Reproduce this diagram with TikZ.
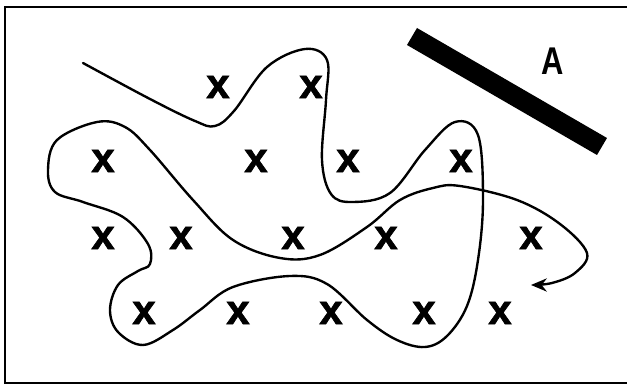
\documentclass[tikz,border=0pt]{standalone}
\usepackage{fontspec}
\setmainfont{Liberation Sans}
\newfontfamily\tagfont[FakeStretch=0.8]{Liberation Sans Bold}
\newfontfamily\crossfont[FakeBold=1.6]{Liberation Sans Bold}
\usetikzlibrary{arrows.meta}
\begin{document}
\begin{tikzpicture}[x=0.02cm,y=-0.02cm,
		spot/.style={inner sep=0pt,font=\crossfont\fontsize{24}{24}\selectfont},
		route/.style={line width=1.35pt,line cap=round}]
			\useasboundingbox (0,0) rectangle (627,385);
			\draw[line width=1.2pt] (627,7) -- (5,7) -- (5,383) -- (627,383);

			% wall and its label
			\fill (407,45) -- (417,28) -- (607,138) -- (597,155) -- cycle;
			\node (lab) at (553,61) [font=\tagfont\fontsize{22}{22}\selectfont] {A};

			% crosses, row by row
			\node (r1a) at (218,87) [spot] {x};
			\node (r1b) at (311,87) [spot] {x};
			\node (r2a) at (103,161) [spot] {x};
			\node (r2b) at (256,161) [spot] {x};
			\node (r2c) at (348,161) [spot] {x};
			\node (r2d) at (461,161) [spot] {x};
			\node (r3a) at (103,238) [spot] {x};
			\node (r3b) at (181,238) [spot] {x};
			\node (r3c) at (293,238) [spot] {x};
			\node (r3d) at (386,238) [spot] {x};
			\node (r3e) at (531,238) [spot] {x};
			\node (r4a) at (144,313) [spot] {x};
			\node (r4b) at (238,313) [spot] {x};
			\node (r4c) at (331,313) [spot] {x};
			\node (r4d) at (424,313) [spot] {x};
			\node (r4e) at (500,313) [spot] {x};

			% the wandering path
			\coordinate (start) at (83,63);
			\coordinate (stop) at (531,285);
			\draw[route,-{Stealth[length=9pt,width=7.5pt]}] plot[smooth,tension=0.6] coordinates {
				(start) (150,99) (195,121) (215,126) (234,111) (267,67) (305,49) (327,60)
				(326,100) (322,160) (331,194) (352,202) (390,193) (425,150)
				(455,122) (478,135) (483,200) (478,260) (467,306) (447,336)
				(425,347) (397,340) (367,320) (327,284) (290,276) (233,287)
				(200,310) (173,330) (143,345) (118,332) (110,310) (118,285)
				(138,271) (150,264) (148,244) (123,217) (83,202) (55,192)
				(48,170) (57,140) (97,122) (125,127) (150,150) (193,200)
				(233,240) (280,258) (320,255) (367,227) (400,200) (433,188)
				(460,186) (517,200) (560,224) (587,253) (575,273) (552,283)
				(stop)};
		\end{tikzpicture}
\end{document}
